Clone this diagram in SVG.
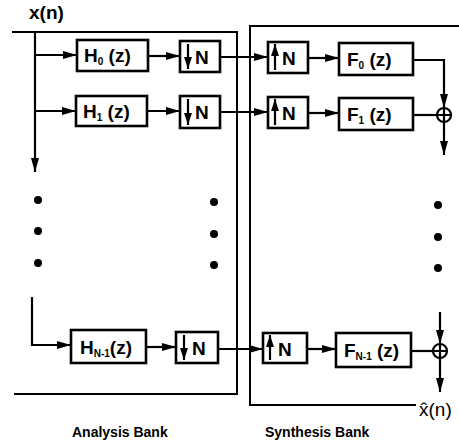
<svg xmlns="http://www.w3.org/2000/svg" width="459" height="448" viewBox="0 0 459 448">
<style>
.box{fill:#fff;stroke:#000;stroke-width:2.6}
.ln{fill:none;stroke:#000;stroke-width:2.2}
.fr{fill:none;stroke:#000;stroke-width:2}
.lbl{font-family:"Liberation Sans",Arial,sans-serif;font-weight:bold;font-size:19px;fill:#000}
.sub{font-size:10px}
.cap{font-family:"Liberation Sans",Arial,sans-serif;font-weight:bold;font-size:14px;fill:#000}
.sig{font-family:"Liberation Sans",Arial,sans-serif;font-size:19px;fill:#000}
</style>
<defs>
<marker id="ah" viewBox="0 0 14 8" refX="14" refY="4" markerWidth="6.4" markerHeight="3.7" orient="auto" markerUnits="strokeWidth">
<path d="M0,0 L14,4 L0,8 z" fill="#000"/>
</marker>
<marker id="ahs" viewBox="0 0 12 8" refX="12" refY="4" markerWidth="5.5" markerHeight="3.6" orient="auto" markerUnits="strokeWidth">
<path d="M0,0 L12,4 L0,8 z" fill="#000"/>
</marker>
</defs>

<g id="frames">
<path class="fr" d="M12,32 H237 V394 H14"/>
<path class="fr" d="M459,26 H250 V405 H416"/>
</g>

<g id="connectors">
<path class="ln" d="M35,32 V172" marker-end="url(#ah)"/>
<path class="ln" d="M35,55 H77" marker-end="url(#ah)"/>
<path class="ln" d="M35,111 H76" marker-end="url(#ah)"/>
<path class="ln" d="M32,297 V345 H71" marker-end="url(#ah)"/>
<path class="ln" d="M148,56 H180" marker-end="url(#ah)"/>
<path class="ln" d="M147,111 H180" marker-end="url(#ah)"/>
<path class="ln" d="M146,347 H176" marker-end="url(#ah)"/>
<path class="ln" d="M220,57 H268" marker-end="url(#ah)"/>
<path class="ln" d="M220,112 H268" marker-end="url(#ah)"/>
<path class="ln" d="M218,349 H263" marker-end="url(#ah)"/>
<path class="ln" d="M308,58 H339" marker-end="url(#ah)"/>
<path class="ln" d="M308,113 H339" marker-end="url(#ah)"/>
<path class="ln" d="M307,349 H336" marker-end="url(#ah)"/>
<path class="ln" d="M413,60 H444 V108" marker-end="url(#ah)"/>
<path class="ln" d="M413,115 H437"/>
<path class="ln" d="M444,122 V155" marker-end="url(#ah)"/>
<path class="ln" d="M440,312 V344" marker-end="url(#ah)"/>
<path class="ln" d="M411,351 H433"/>
<path class="ln" d="M440,358 V392" marker-end="url(#ah)"/>
</g>

<g id="x_in"><text class="lbl" x="29" y="19">x(n)</text></g>
<g id="x_out"><text class="sig" x="419" y="416">x̂(n)</text></g>

<g id="H0"><rect class="box" x="77" y="40" width="71" height="31"/>
<text class="lbl" x="84" y="62">H<tspan class="sub" dy="3">0</tspan><tspan dy="-3"> (z)</tspan></text></g>
<g id="H1"><rect class="box" x="76" y="96" width="71" height="30"/>
<text class="lbl" x="83" y="118">H<tspan class="sub" dy="3">1</tspan><tspan dy="-3"> (z)</tspan></text></g>
<g id="HN1"><rect class="box" x="71" y="330" width="75" height="33"/>
<text class="lbl" x="80" y="354">H<tspan class="sub" dy="3">N-1</tspan><tspan dy="-3">(z)</tspan></text></g>

<g id="D0"><rect class="box" x="180" y="41" width="40" height="31"/>
<path class="ln" d="M188,44 V69" marker-end="url(#ahs)"/>
<text class="lbl" x="195" y="64">N</text></g>
<g id="D1"><rect class="box" x="180" y="96" width="40" height="32"/>
<path class="ln" d="M188,99 V125" marker-end="url(#ahs)"/>
<text class="lbl" x="195" y="119">N</text></g>
<g id="DN1"><rect class="box" x="176" y="332" width="42" height="31"/>
<path class="ln" d="M184,335 V360" marker-end="url(#ahs)"/>
<text class="lbl" x="192" y="355">N</text></g>

<g id="U0"><rect class="box" x="268" y="42" width="40" height="31"/>
<path class="ln" d="M275,70 V44" marker-end="url(#ahs)"/>
<text class="lbl" x="282" y="65">N</text></g>
<g id="U1"><rect class="box" x="268" y="97" width="40" height="31"/>
<path class="ln" d="M275,125 V99" marker-end="url(#ahs)"/>
<text class="lbl" x="282" y="120">N</text></g>
<g id="UN1"><rect class="box" x="263" y="333" width="44" height="30"/>
<path class="ln" d="M270,360 V335" marker-end="url(#ahs)"/>
<text class="lbl" x="278" y="356">N</text></g>

<g id="F0"><rect class="box" x="339" y="43" width="74" height="32"/>
<text class="lbl" x="347" y="66">F<tspan class="sub" dy="3">0</tspan><tspan dy="-3"> (z)</tspan></text></g>
<g id="F1"><rect class="box" x="339" y="98" width="74" height="32"/>
<text class="lbl" x="347" y="121">F<tspan class="sub" dy="3">1</tspan><tspan dy="-3"> (z)</tspan></text></g>
<g id="FN1"><rect class="box" x="336" y="333" width="75" height="34"/>
<text class="lbl" x="344" y="357">F<tspan class="sub" dy="3">N-1</tspan><tspan dy="-3"> (z)</tspan></text></g>

<g id="sum1"><circle class="ln" cx="444" cy="115" r="7"/><path class="ln" d="M437,115 H451 M444,108 V122"/></g>
<g id="sumN"><circle class="ln" cx="440" cy="351" r="7"/><path class="ln" d="M433,351 H447 M440,344 V358"/></g>

<g id="dots" fill="#000">
<circle cx="38" cy="200" r="4"/><circle cx="38" cy="231" r="4"/><circle cx="38" cy="263" r="4"/>
<circle cx="214" cy="202" r="4"/><circle cx="214" cy="234" r="4"/><circle cx="214" cy="265" r="4"/>
<circle cx="438" cy="205" r="4"/><circle cx="438" cy="237" r="4"/><circle cx="438" cy="268" r="4"/>
</g>

<g id="captions">
<text class="cap" x="72" y="437">Analysis Bank</text>
<text class="cap" x="265" y="437">Synthesis Bank</text>
</g>
</svg>
